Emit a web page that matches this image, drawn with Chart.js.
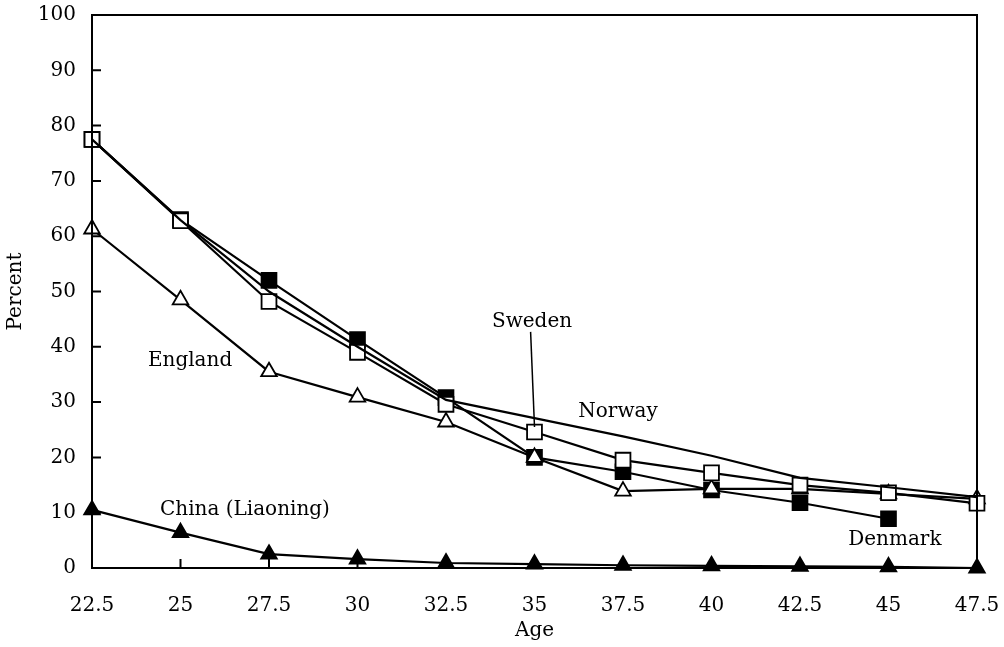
<!DOCTYPE html>
<html>
<head>
<meta charset="utf-8">
<script src="https://cdn.jsdelivr.net/npm/chart.js@4.4.1/dist/chart.umd.min.js"></script>
<style>
  html, body { margin: 0; padding: 0; background: #fff; }
  #wrap { width: 1004px; height: 647px; }
</style>
</head>
<body>
<div id="wrap"><canvas id="chart" width="1004" height="647"></canvas></div>
<script>
const ages = [22.5, 25, 27.5, 30, 32.5, 35, 37.5, 40, 42.5, 45, 47.5];
const denmark = [77.5, 63, 52, 41.3, 30.8, 20, 17.4, 14.1, 11.8, 8.9, null];
const sweden = [77.5, 62.8, 48.2, 39, 29.6, 24.6, 19.5, 17.2, 15, 13.6, 11.7];
const england = [61.3, 48.5, 35.5, 30.9, 26.4, 20, 13.9, 14.3, 14.3, 13.4, 12.5];
const norway = [77.5, 62.9, 50, 40, 30.4, 27.1, 23.8, 20.3, 16.3, 14.6, 12.8];
const china = [10.5, 6.4, 2.5, 1.6, 0.9, 0.7, 0.5, 0.4, 0.3, 0.2, 0];
const yTicks = [0, 10, 20, 30, 40, 50, 60, 70, 80, 90, 100];

// text labels placed in data units
const notes = [
  { text: 'England', x: 25.27, y: 37.4 },
  { text: 'Sweden', x: 34.93, y: 44.5 },
  { text: 'Norway', x: 37.36, y: 28.2 },
  { text: 'China (Liaoning)', x: 26.82, y: 10.5 },
  { text: 'Denmark', x: 45.18, y: 5.1 }
];

const FONT = '"DejaVu Serif", serif';

function pts(arr) {
  return ages.map((a, i) => ({ x: a, y: arr[i] })).filter(p => p.y !== null);
}

function series(label, data, style, fill, radius) {
  return {
    label, data: pts(data),
    borderColor: '#000', borderWidth: 2.2,
    pointStyle: style || 'circle',
    pointRadius: radius || 0,
    pointBackgroundColor: fill, pointBorderColor: '#000', pointBorderWidth: 1.8,
    tension: 0, fill: false, clip: false
  };
}

const frame = {
  id: 'frame',
  afterDraw(chart) {
    const { ctx, chartArea: a, scales: { x, y } } = chart;
    ctx.save();
    ctx.strokeStyle = '#000';
    ctx.lineWidth = 2;
    ctx.strokeRect(a.left, a.top, a.right - a.left, a.bottom - a.top);
    // inward ticks
    ctx.beginPath();
    yTicks.forEach(v => {
      const py = y.getPixelForValue(v);
      ctx.moveTo(a.left, py); ctx.lineTo(a.left + 9, py);
    });
    ages.forEach(v => {
      const px = x.getPixelForValue(v);
      ctx.moveTo(px, a.bottom); ctx.lineTo(px, a.bottom - 9);
    });
    ctx.stroke();
    // annotations
    ctx.fillStyle = '#000';
    ctx.font = '20px ' + FONT;
    ctx.textAlign = 'center';
    ctx.textBaseline = 'middle';
    notes.forEach(n => ctx.fillText(n.text, x.getPixelForValue(n.x), y.getPixelForValue(n.y)));
    // Sweden pointer
    ctx.lineWidth = 1.5;
    ctx.beginPath();
    ctx.moveTo(x.getPixelForValue(34.89), y.getPixelForValue(42.7));
    ctx.lineTo(x.getPixelForValue(35.0), y.getPixelForValue(25.5));
    ctx.stroke();
    ctx.restore();
  }
};

new Chart(document.getElementById('chart').getContext('2d'), {
  type: 'line',
  data: {
    datasets: [
      series('Norway', norway),
      series('Sweden', sweden, 'rect', '#fff', 10.5),
      series('England', england, 'triangle', '#fff', 9),
      series('Denmark', denmark, 'rect', '#000', 10.5),
      series('China (Liaoning)', china, 'triangle', '#000', 9)
    ]
  },
  options: {
    responsive: false,
    animation: false,
    layout: { padding: { top: 15, right: 27, left: 0, bottom: 0 } },
    plugins: { legend: { display: false }, tooltip: { enabled: false } },
    scales: {
      x: {
        type: 'linear', min: 22.5, max: 47.5,
        afterBuildTicks: s => { s.ticks = ages.map(v => ({ value: v })); },
        afterFit: s => { s.height = 79; s.paddingLeft = 0; s.paddingRight = 0; },
        grid: { display: false },
        border: { display: false },
        title: { display: true, text: 'Age', color: '#000', font: { family: FONT, size: 20 }, padding: { top: 2 } },
        ticks: { color: '#000', font: { family: FONT, size: 20 }, padding: 18, maxRotation: 0 }
      },
      y: {
        min: 0, max: 100,
        afterBuildTicks: s => { s.ticks = yTicks.map(v => ({ value: v })); },
        afterFit: s => { s.width = 92; s.paddingTop = 0; s.paddingBottom = 0; },
        grid: { display: false },
        border: { display: false },
        title: { display: true, text: 'Percent', color: '#000', font: { family: FONT, size: 20 }, padding: { bottom: 0 } },
        ticks: { color: '#000', font: { family: FONT, size: 20 }, padding: 8 }
      }
    }
  },
  plugins: [frame]
});
</script>
</body>
</html>
